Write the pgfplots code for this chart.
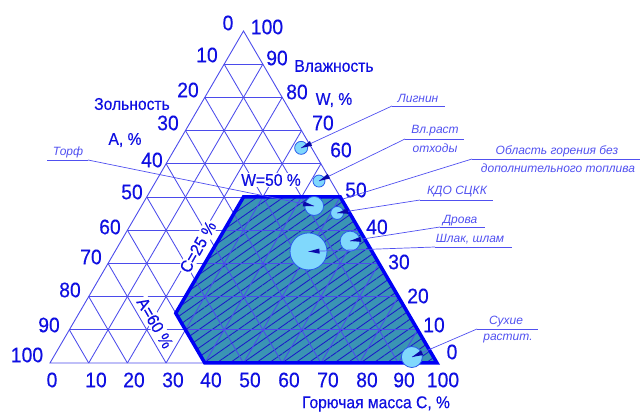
\documentclass[border=0pt]{standalone}
\usepackage{pgfplots}
\pgfplotsset{compat=1.18}
\usepackage{pgfplotstable}
\usetikzlibrary{patterns.meta,arrows.meta,calc}
\usepackage{fontspec}
\setmainfont{Liberation Sans}
\newfontfamily\lbl[FakeStretch=0.92,FakeBold=0.4]{Liberation Sans}
\definecolor{txt}{RGB}{15,15,225}
\definecolor{annc}{RGB}{80,80,240}
\definecolor{gridc}{RGB}{75,75,235}
\definecolor{fillc}{RGB}{58,148,180}
\definecolor{hatch}{RGB}{25,25,200}
\definecolor{edge}{RGB}{0,0,245}
\definecolor{bub}{RGB}{128,216,252}
\definecolor{bubedge}{RGB}{40,90,235}
\definecolor{wedge}{RGB}{10,10,170}

% bubbles: combustible C, moisture W (percent), radius in px
\pgfplotstableread{
C W r
32.5 64.8 6.5
42.1 54.8 6
44.6 47.3 9.5
51.6 45.2 6.5
59.2 36.7 10
50.0 33.6 18.5
92.6 1.8 10.5
}\bubbles

% region of burning without extra fuel: W<=50, A<=60, C>=25
\pgfplotstableread{
C W
25 50
25 15
40 0
100 0
50 50
}\region

\newcommand\lead[2]{%
  \draw[ld] (#1) -- (#2);
  \fill[wedge] (#2) -- ($(#2)!11pt!(#1)!2.6pt!90:(#2)$) -- ($(#2)!11pt!(#1)!2.6pt!-90:(#2)$) -- cycle;}

\begin{document}
\begin{tikzpicture}
\path[use as bounding box] (0,0) rectangle (641pt,414pt);
\begin{axis}[
  at={(50pt,51pt)}, anchor=south west,
  scale only axis, x=3.87pt, y=3.32pt,
  xmin=0, xmax=100, ymin=0, ymax=100,
  enlargelimits=false, hide axis, clip=false,
  unbounded coords=jump]
% filled region
\addplot[draw=none, fill=fillc,
  postaction={pattern={Lines[angle=35,distance=7.5pt,line width=0.85pt]}, pattern color=hatch}]
  table[x expr=\thisrow{C}+0.5*\thisrow{W}, y=W] {\region} -- cycle;
% grid lines
\addplot[gridc, line width=0.85pt] coordinates {
 (5,10) (95,10) (nan,nan) (10,20) (90,20) (nan,nan) (15,30) (85,30) (nan,nan)
 (20,40) (80,40) (nan,nan) (25,50) (75,50) (nan,nan) (30,60) (70,60) (nan,nan)
 (35,70) (65,70) (nan,nan) (40,80) (60,80) (nan,nan) (45,90) (55,90)};
\addplot[gridc, line width=0.85pt] coordinates {
 (10,0) (55,90) (nan,nan) (20,0) (60,80) (nan,nan) (30,0) (65,70) (nan,nan)
 (40,0) (70,60) (nan,nan) (50,0) (75,50) (nan,nan) (60,0) (80,40) (nan,nan)
 (70,0) (85,30) (nan,nan) (80,0) (90,20) (nan,nan) (90,0) (95,10)};
\addplot[gridc, line width=0.85pt] coordinates {
 (90,0) (45,90) (nan,nan) (80,0) (40,80) (nan,nan) (70,0) (35,70) (nan,nan)
 (60,0) (30,60) (nan,nan) (50,0) (25,50) (nan,nan) (40,0) (20,40) (nan,nan)
 (30,0) (15,30) (nan,nan) (20,0) (10,20) (nan,nan) (10,0) (5,10)};
\addplot[gridc, line width=0.9pt] coordinates {(0,0) (100,0) (50,100)} -- cycle;
% region outline
\addplot[edge, line width=3.5pt, line join=miter]
  table[x expr=\thisrow{C}+0.5*\thisrow{W}, y=W] {\region} -- cycle;
% bubbles
\addplot[scatter, only marks, mark=*,
  scatter/use mapped color={draw=bubedge, fill=bub},
  mark options={line width=0.8pt},
  visualization depends on={\thisrow{r} \as \rad},
  scatter/@pre marker code/.append style={/tikz/mark size=\rad}]
  table[x expr=\thisrow{C}+0.5*\thisrow{W}, y=W] {\bubbles};
\end{axis}

\begin{scope}[shift={(0pt,414pt)}, x=1pt, y=-1pt,
  tk/.style={text=txt, font=\lbl\fontsize{21}{21}\selectfont, inner sep=0pt},
  tt/.style={text=txt, font=\lbl\fontsize{17}{17}\selectfont, inner sep=0pt},
  an/.style={text=annc, font=\itshape\fontsize{12}{12}\selectfont, inner sep=0pt},
  ld/.style={annc, line width=0.7pt}]
% left ticks (ash A)
\node[tk] at (228,23) {0};
\node[tk] at (207,55) {10};
\node[tk] at (188,90) {20};
\node[tk] at (168,123) {30};
\node[tk] at (152,160) {40};
\node[tk] at (132,192) {50};
\node[tk] at (110,227) {60};
\node[tk] at (91,257) {70};
\node[tk] at (70,290) {80};
\node[tk] at (49,325) {90};
\node[tk] at (27,355) {100};
% right ticks (moisture W)
\node[tk] at (267,27) {100};
\node[tk] at (277,58) {90};
\node[tk] at (297,92) {80};
\node[tk] at (323,123) {70};
\node[tk] at (341,150) {60};
\node[tk] at (356,190) {50};
\node[tk] at (377,227) {40};
\node[tk] at (399,262) {30};
\node[tk] at (418,296) {20};
\node[tk] at (434,325) {10};
\node[tk] at (452,352) {0};
% bottom ticks (combustible C)
\node[tk] at (52,380) {0};
\node[tk] at (96,380) {10};
\node[tk] at (134,380) {20};
\node[tk] at (173,380) {30};
\node[tk] at (211,380) {40};
\node[tk] at (250,380) {50};
\node[tk] at (289,380) {60};
\node[tk] at (328,380) {70};
\node[tk] at (367,380) {80};
\node[tk] at (404,380) {90};
\node[tk] at (443,380) {100};
% axis titles
\node[tt] at (334,66) {Влажность};
\node[tt] at (334,100) {W, \%};
\node[tt] at (132,104) {Зольность};
\node[tt] at (125,140) {A, \%};
\node[tt] at (376,404) {Горючая масса С, \%};
\node[tt, fill=white, inner sep=1pt] at (271,180) {W=50 \%};
\node[tt, fill=white, inner sep=1pt, rotate=60] at (198,247) {C=25 \%};
\node[tt, fill=white, inner sep=1pt, rotate=-60] at (155,323) {A=60 \%};
% annotations
\node[an] at (68,152) {Торф};
\draw[ld] (47,160) -- (88,160);
\lead{88,160}{314,206}
\node[an] at (418,98) {Лигнин};
\draw[ld] (392,106) -- (445,106);
\lead{392,106}{301,148}
\node[an] at (435,131) {Вл.раст};
\node[an] at (435,148) {отходы};
\draw[ld] (405,139) -- (464,139);
\lead{405,139}{319,181}
\node[an] at (557,151) {Область горения без};
\node[an] at (558,168) {дополнительного топлива};
\draw[ld] (472,159) -- (640,159);
\draw[ld] (472,159) -- (343,199);
\node[an] at (457,192) {КДО СЦКК};
\draw[ld] (420,200) -- (493,200);
\lead{420,200}{337,213}
\node[an] at (460,221) {Дрова};
\draw[ld] (440,227) -- (485,227);
\lead{440,227}{350,241}
\node[an] at (470,239) {Шлак, шлам};
\draw[ld] (435,247) -- (512,247);
\lead{435,247}{308.5,251.5}
\node[an] at (506,322) {Сухие};
\node[an] at (508,339) {растит.};
\draw[ld] (477,329) -- (538,329);
\lead{477,329}{412,357}
\end{scope}
\end{tikzpicture}
\end{document}
